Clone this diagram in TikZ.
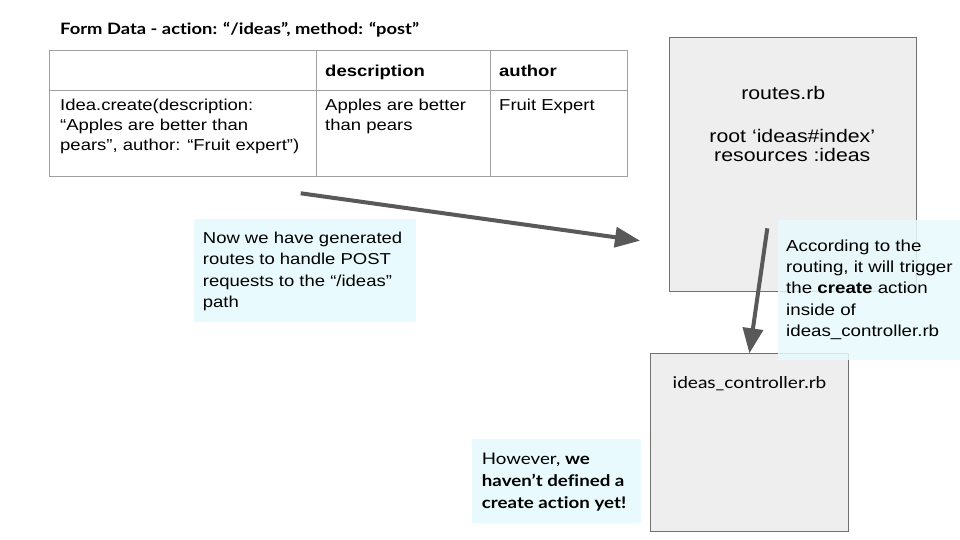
\documentclass[tikz,border=0pt]{standalone}
\usepackage{fontspec}
\setmainfont[FakeStretch=1.17]{Liberation Sans}
\newfontfamily\lato[FakeStretch=1.17, Ligatures=NoCommon]{Lato}
\usetikzlibrary{arrows.meta}

\definecolor{notecyan}{HTML}{E8FAFD}
\definecolor{boxgray}{HTML}{EEEEEE}
\definecolor{boxline}{HTML}{707070}
\definecolor{gridline}{HTML}{A0A0A0}
\definecolor{arrowgray}{HTML}{595959}

\tikzset{
  filebox/.style={draw=boxline, fill=boxgray, line width=0.8pt, anchor=north west, inner sep=0pt},
  notebox/.style={fill=notecyan, anchor=north west, inner sep=0pt},
  txt/.style={anchor=base west, inner sep=0pt, align=left, font=\fontsize{15.8}{20}\selectfont},
  bigarrow/.style={draw=arrowgray, line width=4pt, -{Triangle[length=25pt,width=20pt]}},
}

\begin{document}
\begin{tikzpicture}[x=1pt,y=-1pt]
        \useasboundingbox[fill=white] (0,0) rectangle (960,540);
        % form data table
        \node[anchor=base west, inner sep=0pt, font=\lato\bfseries\fontsize{15.7}{18}\selectfont] (title) at (60,35) {Form Data - action: “/ideas”, method: “post”};
        \draw[gridline, line width=0.8pt] (49.3,50) rectangle (627,176);
        \draw[gridline, line width=0.8pt] (49.3,90.7) -- (627,90.7);
        \draw[gridline, line width=0.8pt] (316,50) -- (316,176);
        \draw[gridline, line width=0.8pt] (490,50) -- (490,176);
        \node[txt, font=\bfseries\fontsize{15.8}{20}\selectfont] (hdesc) at (325,76.3) {description};
        \node[txt, font=\bfseries\fontsize{15.8}{20}\selectfont] (hauth) at (499,76.3) {author};
        % last baseline of each cell
        \node[txt] (call) at (60,150.5) {Idea.create(description:\\“Apples are better than\\pears”, author: “Fruit expert”)};
        \node[txt] (desc) at (325,130.5) {Apples are better\\than pears};
        \node[txt] (auth) at (499,110.5) {Fruit Expert};
        % files
        \node[filebox, minimum width=246.4, minimum height=253.7] (routes) at (669.3,37.3) {};
        \node[anchor=base, inner sep=0pt, align=center, font=\fontsize{18.2}{19}\selectfont] (routestxt) at (792.3,161.7) {routes.rb\hspace*{18pt}\\[23.7pt]root ‘ideas\#index’\\resources :ideas};
        \node[filebox, minimum width=197.4, minimum height=177.7] (ctrl) at (650.3,353.3) {};
        \node[anchor=base, inner sep=0pt, font=\lato\fontsize{16.3}{19}\selectfont] (ctrltxt) at (749.5,388.3) {ideas\_controller.rb};
        % notes
        \node[notebox, minimum width=222.7, minimum height=103.4] (note1) at (193.3,218.3) {};
        \node[txt, font=\fontsize{15.8}{21.5}\selectfont] (note1txt) at (202.7,307.7) {Now we have generated\\routes to handle POST\\requests to the “/ideas”\\path};
        \node[notebox, fill opacity=0.85, minimum width=182.3, minimum height=140.7] (note2) at (777.7,219.3) {};
        \node[txt, font=\fontsize{16}{21.4}\selectfont] (note2txt) at (786,336.7) {According to the\\routing, it will trigger\\the \textbf{create} action\\inside of\\ideas\_controller.rb};
        \node[notebox, minimum width=168.6, minimum height=84.4] (note3) at (471.7,438.3) {};
        \node[txt, font=\lato\fontsize{16}{21.7}\selectfont] (note3txt) at (481.7,508.3) {However, \textbf{we}\\\textbf{haven’t defined a}\\\textbf{create action yet!}};
        % arrows
        \coordinate (from1) at (300.7,193.3);
        \coordinate (to1) at (640,240.7);
        \draw[bigarrow] (from1) -- (to1);
        \coordinate (from2) at (767.3,228.3);
        \draw[bigarrow] (from2) -- (ctrl.north);
      \end{tikzpicture}
\end{document}
